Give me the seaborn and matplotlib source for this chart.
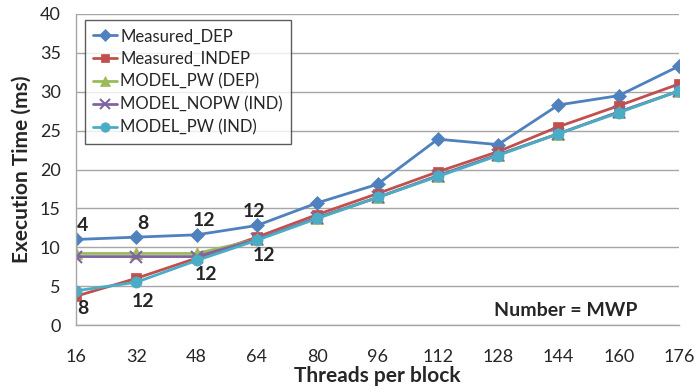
import matplotlib
matplotlib.use("Agg")
import matplotlib.pyplot as plt
import seaborn as sns
import pandas as pd

threads = [16, 32, 48, 64, 80, 96, 112, 128, 144, 160, 176]
measured_dep = [11.0, 11.3, 11.6, 12.8, 15.7, 18.1, 23.9, 23.2, 28.3, 29.5, 33.3]
measured_indep = [3.7, 6.0, 8.6, 11.3, 14.2, 16.9, 19.7, 22.3, 25.5, 28.2, 31.0]
model_pw_dep = [9.2, 9.2, 9.2, 11.0, 13.8, 16.4, 19.2, 21.9, 24.6, 27.4, 30.1]
model_nopw_ind = [8.8, 8.8, 8.8, 11.0, 13.8, 16.4, 19.2, 21.9, 24.6, 27.4, 30.1]
model_pw_ind = [4.4, 5.5, 8.3, 10.9, 13.7, 16.4, 19.1, 21.8, 24.6, 27.3, 30.1]

series_names = ["Measured_DEP", "Measured_INDEP", "MODEL_PW (DEP)",
                "MODEL_NOPW (IND)", "MODEL_PW (IND)"]
series_values = [measured_dep, measured_indep, model_pw_dep, model_nopw_ind, model_pw_ind]

# MWP values written next to the first four points
mwp_dep = ["4", "8", "12", "12"]      # above Measured_DEP
mwp_indep = ["8", "12", "12", "12"]   # below the independent curves

sns.set_theme(style="white")
plt.rcParams["font.family"] = ["Lato", "DejaVu Sans"]

colors = ["#4F81BD", "#C0504D", "#9BBB59", "#8064A2", "#4BACC6"]
markers = ["D", "s", "^", "x", "o"]
msizes = [7, 7, 8, 8, 8]

df = pd.DataFrame({
    "threads": threads * len(series_names),
    "time": [v for vals in series_values for v in vals],
    "series": [n for n in series_names for _ in threads],
})

fig = plt.figure(figsize=(6.97, 3.87), dpi=100)
ax = fig.add_axes([76 / 697, 1 - 325 / 387, (679 - 76) / 697, (325 - 14) / 387])

for name, col, mk, ms in zip(series_names, colors, markers, msizes):
    sub = df[df["series"] == name]
    sns.lineplot(data=sub, x="threads", y="time", ax=ax, color=col, marker=mk,
                 markersize=ms, linewidth=2, label=name,
                 markeredgecolor=col, markeredgewidth=1.5 if mk == "x" else 0.5)

ax.set_xlim(16, 176)
ax.set_ylim(0, 40)
ax.set_xticks(threads)
ax.set_yticks(range(0, 41, 5))
ax.yaxis.grid(True, color="#A6A6A6", linewidth=1)
ax.xaxis.grid(False)
for side in ["top", "right"]:
    ax.spines[side].set_visible(False)
for side in ["left", "bottom"]:
    ax.spines[side].set_color("#A6A6A6")
    ax.spines[side].set_linewidth(1)
ax.tick_params(axis="both", which="both", length=5, color="#A6A6A6",
               direction="out", labelsize=13, labelcolor="#262626")
ax.tick_params(axis="x", pad=12)
ax.tick_params(axis="y", pad=6)
ax.set_xlabel("Threads per block", fontsize=15, fontweight="bold",
              labelpad=1, color="#262626")
ax.set_ylabel("Execution Time (ms)", fontsize=15, fontweight="bold",
              labelpad=6, color="#262626")

# offsets in points (dx, dy) for each MWP label
dep_offsets = [(5, 10), (5, 10), (5, 10), (-2, 10)]
indep_offsets = [(5, -9), (5, -14), (7, -10), (5, -11)]
for i, t in enumerate(mwp_dep):
    ax.annotate(t, (threads[i], measured_dep[i]), xytext=dep_offsets[i],
                textcoords="offset points", ha="center", va="center",
                fontsize=14, fontweight="bold", color="#262626")
for i, t in enumerate(mwp_indep):
    y = min(measured_indep[i], model_pw_ind[i])
    ax.annotate(t, (threads[i], y), xytext=indep_offsets[i],
                textcoords="offset points", ha="center", va="center",
                fontsize=14, fontweight="bold", color="#262626")

ax.text(146, 1.9, "Number = MWP", ha="center", va="center",
        fontsize=14, fontweight="bold", color="#262626")

leg = ax.legend(loc="upper left", bbox_to_anchor=(9 / 603, 1 - 6 / 311), frameon=True,
                fancybox=False, edgecolor="#333333", fontsize=12,
                handlelength=1.4, handletextpad=0.2, labelspacing=0.4,
                borderpad=0.5, borderaxespad=0, markerscale=0.85)
leg.get_frame().set_linewidth(1)
for t in leg.get_texts():
    t.set_color("#262626")

fig.savefig("out.png", dpi=100)
